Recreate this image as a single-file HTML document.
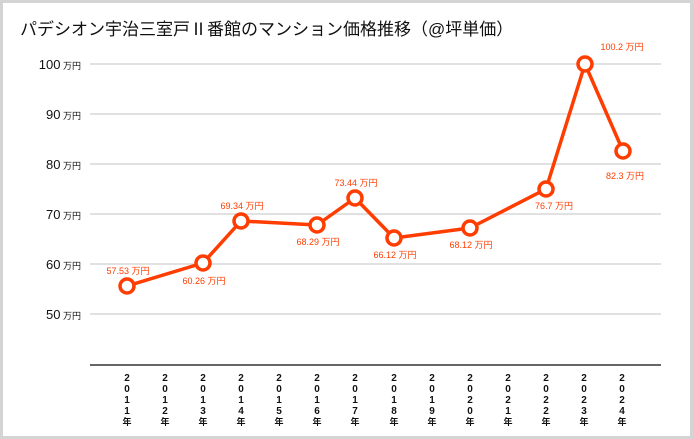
<!DOCTYPE html>
<html><head><meta charset="utf-8"><style>
html,body{margin:0;padding:0;background:#d4d4d4;}
.f{position:absolute;left:3px;top:3px;width:687px;height:433px;background:#fff;}
svg{position:absolute;left:0;top:0;}
text{font-family:"Liberation Sans","Noto Sans CJK JP",sans-serif;}
</style></head><body>
<div class="f"></div>
<svg width="693" height="439" viewBox="0 0 693 439">
<text x="20" y="35" font-size="17" fill="#111">パデシオン宇治三室戸Ⅱ番館のマンション価格推移（@坪単価）</text>
<g stroke="#cfcfcf" stroke-width="1.3">
<line x1="90" y1="64" x2="661" y2="64"/><line x1="90" y1="114" x2="661" y2="114"/>
<line x1="90" y1="164" x2="661" y2="164"/><line x1="90" y1="214" x2="661" y2="214"/>
<line x1="90" y1="264" x2="661" y2="264"/><line x1="90" y1="314" x2="661" y2="314"/>
</g>
<line x1="90" y1="365" x2="661" y2="365" stroke="#333" stroke-width="1.5"/>
<g font-size="13" fill="#111" text-anchor="end">
<text x="81" y="69">100<tspan font-size="9"> 万円</tspan></text>
<text x="81" y="119">90<tspan font-size="9"> 万円</tspan></text>
<text x="81" y="169">80<tspan font-size="9"> 万円</tspan></text>
<text x="81" y="219">70<tspan font-size="9"> 万円</tspan></text>
<text x="81" y="269">60<tspan font-size="9"> 万円</tspan></text>
<text x="81" y="319">50<tspan font-size="9"> 万円</tspan></text>
</g>
<g font-size="10" fill="#111" text-anchor="middle" font-weight="bold">
<text x="127" y="381">2</text><text x="127" y="392">0</text><text x="127" y="403">1</text><text x="127" y="414">1</text><text x="127" y="425" font-size="9">年</text>
<text x="165" y="381">2</text><text x="165" y="392">0</text><text x="165" y="403">1</text><text x="165" y="414">2</text><text x="165" y="425" font-size="9">年</text>
<text x="203" y="381">2</text><text x="203" y="392">0</text><text x="203" y="403">1</text><text x="203" y="414">3</text><text x="203" y="425" font-size="9">年</text>
<text x="241" y="381">2</text><text x="241" y="392">0</text><text x="241" y="403">1</text><text x="241" y="414">4</text><text x="241" y="425" font-size="9">年</text>
<text x="279" y="381">2</text><text x="279" y="392">0</text><text x="279" y="403">1</text><text x="279" y="414">5</text><text x="279" y="425" font-size="9">年</text>
<text x="317" y="381">2</text><text x="317" y="392">0</text><text x="317" y="403">1</text><text x="317" y="414">6</text><text x="317" y="425" font-size="9">年</text>
<text x="355" y="381">2</text><text x="355" y="392">0</text><text x="355" y="403">1</text><text x="355" y="414">7</text><text x="355" y="425" font-size="9">年</text>
<text x="394" y="381">2</text><text x="394" y="392">0</text><text x="394" y="403">1</text><text x="394" y="414">8</text><text x="394" y="425" font-size="9">年</text>
<text x="432" y="381">2</text><text x="432" y="392">0</text><text x="432" y="403">1</text><text x="432" y="414">9</text><text x="432" y="425" font-size="9">年</text>
<text x="470" y="381">2</text><text x="470" y="392">0</text><text x="470" y="403">2</text><text x="470" y="414">0</text><text x="470" y="425" font-size="9">年</text>
<text x="508" y="381">2</text><text x="508" y="392">0</text><text x="508" y="403">2</text><text x="508" y="414">1</text><text x="508" y="425" font-size="9">年</text>
<text x="546" y="381">2</text><text x="546" y="392">0</text><text x="546" y="403">2</text><text x="546" y="414">2</text><text x="546" y="425" font-size="9">年</text>
<text x="584" y="381">2</text><text x="584" y="392">0</text><text x="584" y="403">2</text><text x="584" y="414">3</text><text x="584" y="425" font-size="9">年</text>
<text x="622" y="381">2</text><text x="622" y="392">0</text><text x="622" y="403">2</text><text x="622" y="414">4</text><text x="622" y="425" font-size="9">年</text>
</g>
<polyline points="127,286 203,263 241,221 317,225 355,198 394,238 470,228 546,189 585,64 623,151" fill="none" stroke="#ff3d00" stroke-width="3.5" stroke-linejoin="round"/>
<g fill="#fff" stroke="#ff3d00" stroke-width="3.5">
<circle cx="127" cy="286" r="7"/><circle cx="203" cy="263" r="7"/><circle cx="241" cy="221" r="7"/>
<circle cx="317" cy="225" r="7"/><circle cx="355" cy="198" r="7"/><circle cx="394" cy="238" r="7"/>
<circle cx="470" cy="228" r="7"/><circle cx="546" cy="189" r="7"/><circle cx="585" cy="64" r="7"/>
<circle cx="623" cy="151" r="7"/>
</g>
<g font-size="9" fill="#ff3d00" text-anchor="middle">
<text x="128" y="274">57.53 万円</text>
<text x="204" y="284">60.26 万円</text>
<text x="242" y="209">69.34 万円</text>
<text x="318" y="245">68.29 万円</text>
<text x="356" y="186">73.44 万円</text>
<text x="395" y="258">66.12 万円</text>
<text x="471" y="248">68.12 万円</text>
<text x="554" y="209">76.7 万円</text>
<text x="622" y="50">100.2 万円</text>
<text x="625" y="179">82.3 万円</text>
</g>
</svg>
</body></html>
